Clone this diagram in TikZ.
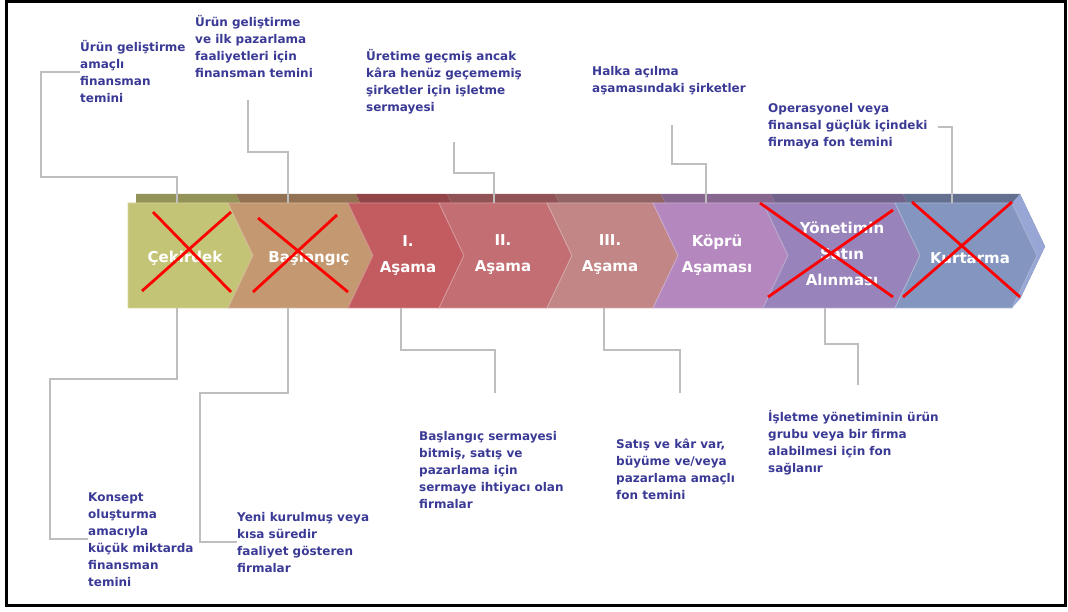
\documentclass[tikz,border=0pt]{standalone}
\usepackage{fontspec}
\setmainfont{DejaVu Sans}
\usetikzlibrary{positioning}

\definecolor{txtblue}{RGB}{58,58,150}
\definecolor{linegray}{RGB}{190,190,190}
\definecolor{stepA}{RGB}{196,196,118}
\definecolor{stepB}{RGB}{196,152,112}
\definecolor{stepC}{RGB}{194,92,96}
\definecolor{stepD}{RGB}{195,110,115}
\definecolor{stepE}{RGB}{194,134,134}
\definecolor{stepF}{RGB}{180,136,190}
\definecolor{stepG}{RGB}{152,132,186}
\definecolor{stepH}{RGB}{132,150,192}
\definecolor{sideH}{RGB}{152,166,214}

\begin{document}
\begin{tikzpicture}[x=1pt,y=-1pt,
  note/.style={anchor=base west,align=left,inner sep=0pt,text=txtblue,font=\fontsize{12}{17}\selectfont\bfseries},
  stage/.style={align=center,text=white,font=\fontsize{15}{26}\selectfont\bfseries},
  conn/.style={draw=linegray,line width=1.6pt},
  cross/.style={draw=red,line width=2.8pt}]
\useasboundingbox (0,0) rectangle (1068,612);
\draw[line width=3pt] (6.5,1.5) rectangle (1065,605);

% band of stages
\foreach \l/\t/\d/\c in {128/253/0/stepA,228/373/25/stepB,348/464/25/stepC,439/572/25/stepD,547/678/25/stepE,653/788/25/stepF,763/920/25/stepG,895/1037/25/stepH} {
  \fill[\c!75!black,shift={(8,-9)}] (\l,203) -- (\t-25,203) -- (\t,255.5) -- (\t-25,308) -- (\l,308) -- (\l+\d,255.5) -- cycle;
}
\fill[sideH] (1012,203) -- (1020,194) -- (1045,246.5) -- (1020,299) -- (1012,308) -- (1037,255.5) -- cycle;
\foreach \l/\t/\d/\c in {128/253/0/stepA,228/373/25/stepB,348/464/25/stepC,439/572/25/stepD,547/678/25/stepE,653/788/25/stepF,763/920/25/stepG,895/1037/25/stepH} {
  \filldraw[fill=\c,draw=\c!70!white,line width=0.8pt] (\l,203) -- (\t-25,203) -- (\t,255.5) -- (\t-25,308) -- (\l,308) -- (\l+\d,255.5) -- cycle;
}

\node[stage] (s1) at (185,258) {Çekirdek};
\node[stage] (s2) at (309,258) {Başlangıç};
\node[stage] (s3) at (408,256) {I.\\Aşama};
\node[stage] (s4) at (503,255) {II.\\Aşama};
\node[stage] (s5) at (610,255) {III.\\Aşama};
\node[stage] (s6) at (717,255) {Köprü\\Aşaması};
\node[stage] (s7) at (842,254) {Yönetimin\\Satın\\Alınması};
\node[stage] (s8) at (970,258) {Kurtarma};

% crossed out stages
\draw[cross] (153,212) -- (231,292) (231,212) -- (142,291);
\draw[cross] (258,218) -- (348,292) (337,215) -- (253,292);
\draw[cross] (760,203) -- (893,297) (893,210) -- (768,297);
\draw[cross] (912,202) -- (1020,297) (1012,202) -- (903,297);

% notes above (placed at the baseline of their last line)
\node[note] (t1) at (80,103) {Ürün geliştirme\\amaçlı\\finansman\\temini};
\node[note] (t2) at (195,78) {Ürün geliştirme\\ve ilk pazarlama\\faaliyetleri için\\finansman temini};
\node[note] (t3) at (366,112) {Üretime geçmiş ancak\\kâra henüz geçememiş\\şirketler için işletme\\sermayesi};
\node[note] (t4) at (592,93) {Halka açılma\\aşamasındaki şirketler};
\node[note] (t5) at (768,147) {Operasyonel veya\\finansal güçlük içindeki\\firmaya fon temini};

% notes below
\node[note] (b1) at (88,586) {Konsept\\oluşturma\\amacıyla\\küçük miktarda\\finansman\\temini};
\node[note] (b2) at (237,572) {Yeni kurulmuş veya\\kısa süredir\\faaliyet gösteren\\firmalar};
\node[note] (b3) at (419,508) {Başlangıç sermayesi\\bitmiş, satış ve\\pazarlama için\\sermaye ihtiyacı olan\\firmalar};
\node[note] (b4) at (616,499) {Satış ve kâr var,\\büyüme ve/veya\\pazarlama amaçlı\\fon temini};
\node[note] (b5) at (768,472) {İşletme yönetiminin ürün\\grubu veya bir firma\\alabilmesi için fon\\sağlanır};

\coordinate (u1) at (177,203);
\coordinate (u2) at (288,203);
\coordinate (u3) at (494,203);
\coordinate (u4) at (706,203);
\coordinate (u5) at (952,203);
\coordinate (d1) at (177,308);
\coordinate (d2) at (288,308);
\coordinate (d3) at (401,308);
\coordinate (d4) at (604,308);
\coordinate (d5) at (825,308);

\draw[conn] (t1.west) -| (41,177) -| (u1);
\draw[conn] (u2) |- (248,152) -- (248,100);
\draw[conn] (u3) |- (454,173) -- (454,142);
\draw[conn] (u4) |- (672,164) -- (672,125);
\draw[conn] ([xshift=10pt]t5.east) -| (u5);
\draw[conn] (d1) |- (50,379) |- (b1.west);
\draw[conn] (d2) |- (200,393) |- (b2.west);
\draw[conn] (d3) |- (495,350) -- (495,393);
\draw[conn] (d4) |- (680,350) -- (680,393);
\draw[conn] (d5) |- (858,344) -- (858,385);
\end{tikzpicture}
\end{document}
